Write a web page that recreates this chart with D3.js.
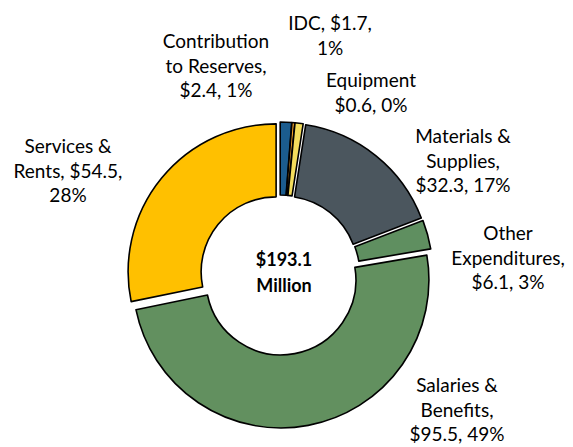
<!DOCTYPE html>
<html><head><meta charset="utf-8">
<script src="https://cdn.jsdelivr.net/npm/d3@7"></script>
<style>body{margin:0;background:#fff}svg{display:block}</style></head>
<body>
<svg id="c" width="573" height="447"></svg>
<script>
// ---- data ----
const categories = ["Contribution to Reserves","Equipment","IDC","Materials & Supplies","Other Expenditures","Salaries & Benefits","Services & Rents"];
const values = [2.4, 0.6, 1.7, 32.3, 6.1, 95.5, 54.5];
const labelTemplates = [
  ["Contribution","to Reserves,","{v}, {p}"],
  ["Equipment","{v}, {p}"],
  ["IDC, {v},","{p}"],
  ["Materials &","Supplies,","{v}, {p}"],
  ["Other","Expenditures,","{v}, {p}"],
  ["Salaries &","Benefits,","{v}, {p}"],
  ["Services &","Rents, {v},","{p}"]
];
const centerText = ["$193.1","Million"];

// ---- layout / style ----
const colors = ["#1B5C8E","#F2A128","#F4DD5C","#4B565E","#5F8F60","#62905F","#FFC000"];
const labelPos = [[216,48],[371,87],[330,30],[463,143],[508,240],[457,392],[68,153]];
const W=573,H=447, cx=280, cy=275, R=148, r=75, explode=5, lineH=24.7;
const font = "Lato, 'Open Sans', sans-serif";

const svg = d3.select("#c");
const total = d3.sum(values);
const pie = d3.pie().sort(null).value(d=>d.v).startAngle(0).endAngle(2*Math.PI);
const arcs = pie(values.map((v,i)=>({v,i})));
const arc = d3.arc().innerRadius(r).outerRadius(R);
const g = svg.append("g").attr("transform",`translate(${cx},${cy})`);
g.selectAll("path").data(arcs).join("path")
  .attr("d",arc)
  .attr("transform",d=>{const m=(d.startAngle+d.endAngle)/2;return `translate(${Math.sin(m)*explode},${-Math.cos(m)*explode})`;})
  .attr("fill",d=>colors[d.data.i])
  .attr("stroke","#000").attr("stroke-width",1.6).attr("stroke-linejoin","round");

const fmtV = v=>"$"+v.toFixed(1);
const fmtP = v=>Math.round(v/total*100)+"%";
labelTemplates.forEach((lines,i)=>{
  const t = svg.append("text").attr("font-family",font).attr("font-size",19)
    .attr("fill","#000").attr("text-anchor","middle");
  lines.forEach((ln,j)=>{
    t.append("tspan").attr("x",labelPos[i][0]).attr("y",labelPos[i][1]+j*lineH)
      .text(ln.replace("{v}",fmtV(values[i])).replace("{p}",fmtP(values[i])));
  });
});
const ct = svg.append("text").attr("font-family",font).attr("font-size",18).attr("font-weight","bold")
  .attr("text-anchor","middle");
centerText.forEach((s,j)=>ct.append("tspan").attr("x",284).attr("y",266+j*26).text(s));
</script>
</body></html>
